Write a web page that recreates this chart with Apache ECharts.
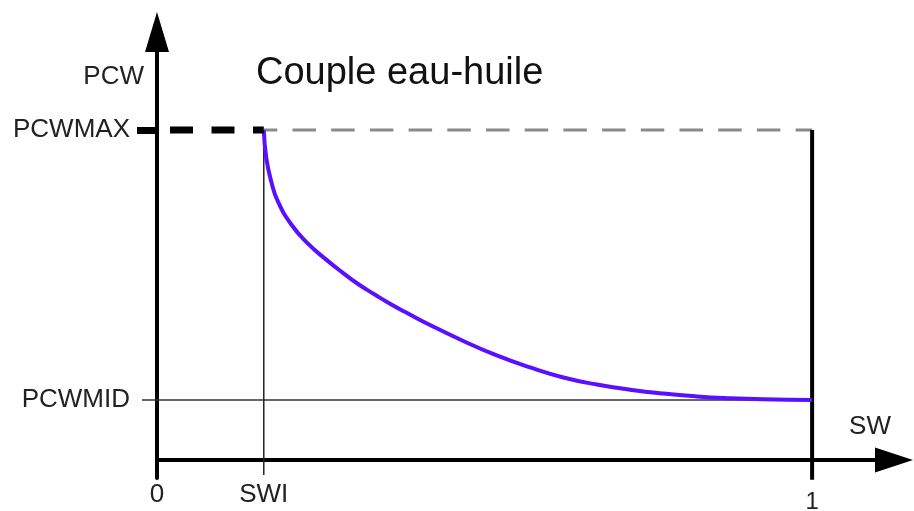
<!DOCTYPE html>
<html>
<head>
<meta charset="utf-8">
<title>Couple eau-huile</title>
<script src="https://cdn.jsdelivr.net/npm/echarts@6/dist/echarts.min.js"></script>
<style>
  html, body { margin: 0; padding: 0; background: #ffffff; }
  #chart { width: 914px; height: 511px; }
</style>
</head>
<body>
<div id="chart"></div>
<script>
// Capillary pressure curve, water-oil pair (arbitrary PCW units)
const swi = 0.163;          // irreducible water saturation
const swMax = 1;            // full water saturation
const pcwMid = 1;           // PCW at SW = 1
const pcwMax = 5.5;         // PCW at SW = SWI

// Curve samples: SW and PCW
const curveSw  = [0.163, 0.1669, 0.1745, 0.1847, 0.2050, 0.2305, 0.2560, 0.2814, 0.3069, 0.3324, 0.3577, 0.3832,
                  0.4168, 0.4676, 0.5186, 0.5695, 0.6203, 0.6713, 0.7221, 0.7730, 0.8240, 0.8748, 0.9256, 1.0];
const curvePcw = [5.500, 5.028, 4.638, 4.305, 3.925, 3.605, 3.360, 3.138, 2.933, 2.758, 2.592, 2.442,
                  2.250, 1.983, 1.742, 1.542, 1.375, 1.258, 1.172, 1.107, 1.060, 1.030, 1.012, 1.000];

// Tick values and their labels
const xTickValues = [0, swi, swMax];
const xTickLabels = ['0', 'SWI', '1'];
const yTickValues = [pcwMid, pcwMax];
const yTickLabels = ['PCWMID', 'PCWMAX'];

// How far the vertical guides drop below the SW axis (PCW units)
const swiDrop = -0.25;
const oneDrop = -0.33;

const FONT = '"Liberation Sans", Arial, Helvetica, sans-serif';
const TEXT = '#222222';

const chart = echarts.init(document.getElementById('chart'), null, { renderer: 'canvas' });

const pair = (xs, ys) => xs.map((x, i) => [x, ys[i]]);

const yRange = { min: -0.3, max: 7.133 };

const option = {
  animation: false,
  backgroundColor: '#ffffff',
  title: {
    text: 'Couple eau-huile',
    left: 256,
    top: 55,
    padding: 0,
    textStyle: { fontFamily: FONT, fontSize: 38, fontWeight: 'normal', color: '#111111' }
  },
  grid: { left: 157, right: 20, top: 32, bottom: 33, containLabel: false, outerBoundsMode: 'none' },
  xAxis: {
    type: 'value',
    min: 0,
    max: 1.125,
    name: 'SW',
    nameLocation: 'end',
    nameGap: -24,
    nameTextStyle: {
      fontFamily: FONT, fontSize: 26, color: TEXT,
      align: 'center', verticalAlign: 'bottom', padding: [0, 0, 20, 0]
    },
    axisLine: {
      show: true,
      onZero: true,
      symbol: ['none', 'triangle'],
      symbolSize: [25, 38],
      lineStyle: { color: '#000000', width: 4 }
    },
    axisTick: { show: false },
    splitLine: { show: false },
    axisLabel: {
      show: true,
      customValues: xTickValues,
      margin: 4,
      fontFamily: FONT,
      color: TEXT,
      formatter: function (v) {
        const i = xTickValues.indexOf(v);
        const txt = xTickLabels[i];
        return i === 2 ? '{s|' + txt + '}' : '{n|' + txt + '}';
      },
      rich: {
        n: { fontFamily: FONT, fontSize: 26, color: TEXT },
        s: { fontFamily: FONT, fontSize: 24, color: TEXT, padding: [8, 0, 0, 0] }
      }
    }
  },
  yAxis: [
    {
      type: 'value',
      position: 'left',
      min: yRange.min,
      max: yRange.max,
      name: 'PCW',
      nameLocation: 'end',
      nameGap: -45,
      nameTextStyle: {
        fontFamily: FONT, fontSize: 26, color: TEXT,
        align: 'right', verticalAlign: 'middle', padding: [0, 13, 0, 0]
      },
      axisLine: {
        show: true,
        onZero: true,
        symbol: ['none', 'triangle'],
        symbolSize: [24, 40],
        lineStyle: { color: '#000000', width: 4 }
      },
      // thin leader for PCWMID
      axisTick: {
        show: true,
        customValues: [pcwMid],
        length: 15,
        lineStyle: { color: '#333333', width: 1.5 }
      },
      splitLine: { show: false },
      axisLabel: {
        show: true,
        customValues: yTickValues,
        margin: 27,
        fontFamily: FONT,
        fontSize: 26,
        color: TEXT,
        formatter: function (v) {
          return yTickLabels[yTickValues.indexOf(v)];
        }
      }
    },
    {
      // same scale, only carries the heavy PCWMAX leader
      type: 'value',
      position: 'left',
      offset: 0,
      min: yRange.min,
      max: yRange.max,
      axisLine: { show: false, onZero: false },
      axisTick: {
        show: true,
        customValues: [pcwMax],
        length: 20,
        lineStyle: { color: '#000000', width: 7, cap: 'butt' }
      },
      axisLabel: { show: false },
      splitLine: { show: false }
    }
  ],
  series: [
    {
      // PCWMID reference line
      type: 'line', symbol: 'none', z: 2, silent: true,
      data: [[0, pcwMid], [swMax, pcwMid]],
      lineStyle: { color: '#333333', width: 1.5 }
    },
    {
      // SWI vertical
      type: 'line', clip: false, symbol: 'none', z: 2, silent: true,
      data: [[swi, pcwMax], [swi, swiDrop]],
      lineStyle: { color: '#222222', width: 1.5 }
    },
    {
      // SW = 1 vertical
      type: 'line', clip: false, symbol: 'none', z: 3, silent: true,
      data: [[swMax, pcwMax], [swMax, oneDrop]],
      lineStyle: { color: '#000000', width: 4 }
    },
    {
      // PCWMAX level beyond SWI
      type: 'line', symbol: 'none', z: 2, silent: true,
      data: [[swi, pcwMax], [swMax, pcwMax]],
      lineStyle: { color: '#8a8a8a', width: 3, type: [23.5, 15.2], dashOffset: 10, cap: 'butt' }
    },
    {
      // PCW curve
      type: 'line', symbol: 'none', z: 4, silent: true,
      smooth: 0.5,
      data: pair(curveSw, curvePcw),
      lineStyle: { color: '#5a0fff', width: 4 }
    },
    {
      // PCWMAX level up to SWI
      type: 'line', symbol: 'none', z: 5, silent: true,
      data: [[0, pcwMax], [swi, pcwMax]],
      lineStyle: { color: '#000000', width: 7, type: [23, 18.5], dashOffset: 28.5, cap: 'butt' }
    }
  ]
};

chart.setOption(option);
</script>
</body>
</html>
